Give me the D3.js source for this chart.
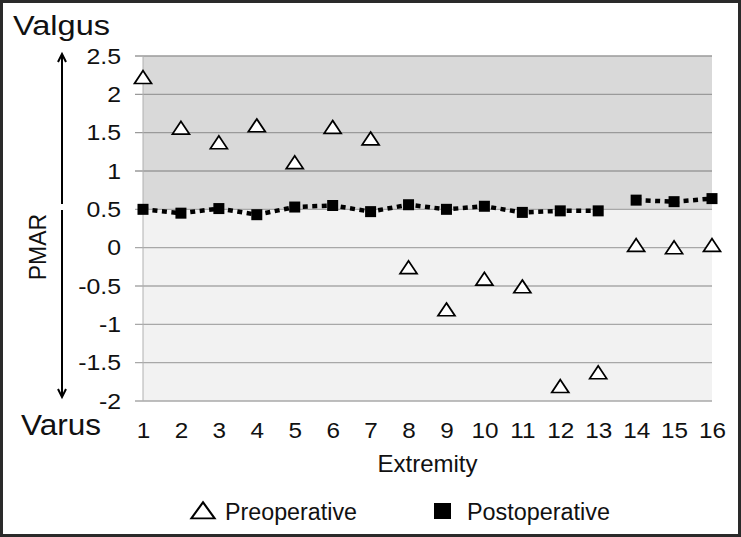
<!DOCTYPE html>
<html>
<head>
<meta charset="utf-8">
<script src="https://cdn.jsdelivr.net/npm/d3@7/dist/d3.min.js"></script>
<style>
  body { margin: 0; background: #fff; }
  text { font-family: "Liberation Sans", Arial, sans-serif; fill: #111; }
</style>
</head>
<body>
<div class="viz"></div>
<script>
// data
const extremities = [1, 2, 3, 4, 5, 6, 7, 8, 9, 10, 11, 12, 13, 14, 15, 16]
const preoperative = [2.21, 1.55, 1.36, 1.58, 1.10, 1.56, 1.41, -0.27, -0.82, -0.42, -0.52, -1.82, -1.64, 0.02, -0.01, 0.02]
const postoperative = [0.50, 0.45, 0.51, 0.43, 0.53, 0.55, 0.47, 0.56, 0.50, 0.54, 0.46, 0.48, 0.48, 0.62, 0.60, 0.64]
// postoperative line is drawn in two runs: extremities 1-13 and 14-16
const postSegments = [[1, 13], [14, 16]]
const yTicks = [-2, -1.5, -1, -0.5, 0, 0.5, 1, 1.5, 2, 2.5]
const zoneSplit = 0.5

const width = 741
const height = 537
const m = { left: 143, right: 712, top: 56, bottom: 401 }
const stretch = 1.13   // the source picture is a bit wider than tall

const svg = d3.select('.viz')
  .append('svg')
    .attr('width', width)
    .attr('height', height)

const x = d3.scaleLinear().domain([1, 16]).range([m.left, m.right])
const y = d3.scaleLinear().domain([-2, 2.5]).range([m.bottom, m.top])

// background zones
svg.append('rect')
  .attr('x', m.left).attr('y', y(2.5))
  .attr('width', m.right - m.left).attr('height', y(zoneSplit) - y(2.5))
  .attr('fill', '#d9d9d9')
svg.append('rect')
  .attr('x', m.left).attr('y', y(zoneSplit))
  .attr('width', m.right - m.left).attr('height', y(-2) - y(zoneSplit))
  .attr('fill', '#f2f2f2')

// gridlines
svg.append('g')
  .selectAll('line')
  .data(yTicks).enter().append('line')
    .attr('x1', m.left - 8).attr('x2', m.right)
    .attr('y1', d => y(d)).attr('y2', d => y(d))
    .attr('stroke', d => d > zoneSplit ? '#9a9a9a' : '#a8a8a8')
    .attr('stroke-width', 1.3)

svg.append('line')
  .attr('x1', m.left).attr('x2', m.left)
  .attr('y1', m.top).attr('y2', m.bottom)
  .attr('stroke', '#b0b0b0')

// y axis labels (plain hyphen for negatives, like the source)
const yAxis = svg.append('g')
  .attr('transform', `translate(${m.left},0)`)
  .call(d3.axisLeft(y).tickValues(yTicks).tickSize(0).tickFormat(d => String(d)))
yAxis.select('.domain').remove()
yAxis.selectAll('text')
  .attr('x', -22 / stretch)
  .attr('transform', `scale(${stretch},1)`)
  .attr('font-size', 22)
  .attr('font-family', '"Liberation Sans", Arial, sans-serif')
  .attr('fill', '#111')

// x axis labels
const xAxis = svg.append('g')
  .attr('transform', `translate(0,${m.bottom})`)
  .call(d3.axisBottom(x).tickValues(extremities).tickSize(0).tickPadding(22).tickFormat(d3.format('d')))
xAxis.select('.domain').remove()
xAxis.selectAll('text')
  .attr('transform', `scale(${stretch},1)`)
  .attr('font-size', 21.5)
  .attr('font-family', '"Liberation Sans", Arial, sans-serif')
  .attr('fill', '#111')

// postoperative dotted line
const line = d3.line()
  .x(d => x(d.ext))
  .y(d => y(d.val))
postSegments.forEach(([a, b]) => {
  const pts = extremities
    .map((e, i) => ({ ext: e, val: postoperative[i] }))
    .filter(d => d.ext >= a && d.ext <= b)
  svg.append('path')
    .attr('d', line(pts))
    .attr('fill', 'none')
    .attr('stroke', '#000')
    .attr('stroke-width', 4.5)
    .attr('stroke-dasharray', '5,4.5')
})

// postoperative squares
svg.append('g')
  .selectAll('rect')
  .data(postoperative).enter().append('rect')
    .attr('x', (d, i) => x(extremities[i]) - 5.5)
    .attr('y', d => y(d) - 5.5)
    .attr('width', 11).attr('height', 11)
    .attr('fill', '#000')

// preoperative triangles
const tri = d3.symbol().type(d3.symbolTriangle).size(95)
svg.append('g')
  .selectAll('path')
  .data(preoperative).enter().append('path')
    .attr('d', tri)
    .attr('transform', (d, i) => `translate(${x(extremities[i])},${y(d) + 1}) scale(1.15,1)`)
    .attr('fill', '#fff')
    .attr('stroke', '#000')
    .attr('stroke-width', 1.6)

// titles
svg.append('text')
  .text('Valgus')
  .attr('x', 13).attr('y', 35)
  .attr('font-size', 27)
  .attr('textLength', 97).attr('lengthAdjust', 'spacingAndGlyphs')
svg.append('text')
  .text('Varus')
  .attr('x', 21).attr('y', 435)
  .attr('font-size', 29)
  .attr('textLength', 80).attr('lengthAdjust', 'spacingAndGlyphs')
svg.append('text')
  .text('PMAR')
  .attr('transform', 'translate(46,247) rotate(-90)')
  .attr('text-anchor', 'middle')
  .attr('font-size', 23)
svg.append('text')
  .text('Extremity')
  .attr('x', (m.left + m.right) / 2).attr('y', 472)
  .attr('text-anchor', 'middle')
  .attr('font-size', 24)

// arrows
const arrowX = 62
svg.append('line')
  .attr('x1', arrowX).attr('x2', arrowX)
  .attr('y1', 204).attr('y2', 54)
  .attr('stroke', '#000').attr('stroke-width', 2)
svg.append('path')
  .attr('d', `M${arrowX - 4},${62} L${arrowX},${54} L${arrowX + 4},${62}`)
  .attr('fill', 'none').attr('stroke', '#000').attr('stroke-width', 2)
svg.append('line')
  .attr('x1', arrowX).attr('x2', arrowX)
  .attr('y1', 210).attr('y2', 397)
  .attr('stroke', '#000').attr('stroke-width', 2)
svg.append('path')
  .attr('d', `M${arrowX - 4},${389} L${arrowX},${397} L${arrowX + 4},${389}`)
  .attr('fill', 'none').attr('stroke', '#000').attr('stroke-width', 2)

// legend
svg.append('path')
  .attr('d', d3.symbol().type(d3.symbolTriangle).size(150))
  .attr('transform', 'translate(203,513) scale(1.25,1)')
  .attr('fill', '#fff').attr('stroke', '#000').attr('stroke-width', 1.8)
svg.append('text')
  .text('Preoperative')
  .attr('x', 225).attr('y', 520)
  .attr('font-size', 23)
  .attr('textLength', 132).attr('lengthAdjust', 'spacingAndGlyphs')
svg.append('rect')
  .attr('x', 434).attr('y', 503)
  .attr('width', 17).attr('height', 16)
  .attr('fill', '#000')
svg.append('text')
  .text('Postoperative')
  .attr('x', 467).attr('y', 520)
  .attr('font-size', 23)
  .attr('textLength', 143).attr('lengthAdjust', 'spacingAndGlyphs')

// frame
svg.append('rect')
  .attr('x', 1.5).attr('y', 1.5)
  .attr('width', width - 3).attr('height', height - 3)
  .attr('fill', 'none')
  .attr('stroke', '#2a2a2a')
  .attr('stroke-width', 3)
</script>
</body>
</html>
